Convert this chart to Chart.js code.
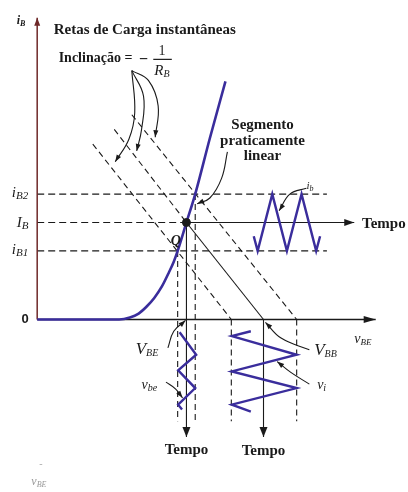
<!DOCTYPE html>
<html>
<head>
<meta charset="utf-8">
<script src="https://cdn.jsdelivr.net/npm/chart.js@4/dist/chart.umd.min.js"></script>
<style>
  html, body { margin: 0; padding: 0; background: #fff; }
  canvas { display: block; }
</style>
</head>
<body>
<canvas id="retas" width="408" height="492"></canvas>
<script>
// unidades do diagrama: origem no cruzamento dos eixos, 1 unidade = 10 px

// correntes de base e tensoes
const iB1 = 7.0, IB = 9.9, iB2 = 12.8;
const vbe1 = 14.4, vbeQ = 15.3, vbe2 = 16.2;
const vbbMin = 19.9, VBB = 23.2, vbbMax = 26.6;

// curva de entrada iB x vBE
const curvaX = [0, 8.4, 9.5, 10.4, 11.2, 12.0, 12.8, 13.5, 14.0, 14.4, 15.3, 16.2, 17.7, 19.3];
const curvaY = [0, 0, 0.2, 0.6, 1.3, 2.2, 3.4, 4.8, 5.9, 7.0, 9.9, 12.8, 18.5, 24.3];

// retas de carga (inicio superior -> corte no eixo vBE)
const retaEsqX = [5.7, vbbMin], retaEsqY = [17.9, 0];
const retaMeioX = [7.9, vbeQ], retaMeioY = [19.4, IB];
const retaDirX = [9.7, vbbMax], retaDirY = [20.9, 0];

// formas de onda
const ibX = [22.2, 22.6, 24.1, 25.6, 27.1, 28.6, 29.0];
const ibY = [8.5, iB1, iB2, iB1, iB2, iB1, 8.5];
const vbeX = [14.6, 16.3, 14.45, 16.2, 14.45, 14.85];
const vbeY = [-1.3, -3.6, -5.2, -7.0, -8.7, -9.2];
const viX = [21.9, 19.95, 26.6, 19.95, 26.6, 19.95, 21.9];
const viY = [-1.2, -1.7, -3.6, -5.3, -7.0, -8.7, -9.4];

// setas curvas de anotacao
const setaIncl1X = [9.7, 10.0, 9.4, 8.0], setaIncl1Y = [25.4, 21.1, 18.4, 16.1];
const setaIncl2X = [9.7, 10.9, 10.7, 10.2], setaIncl2Y = [25.4, 22.8, 19.4, 17.2];
const setaIncl3X = [9.7, 11.4, 12.4, 12.1], setaIncl3Y = [25.4, 24.4, 21.8, 18.6];
const setaSegX = [19.5, 18.9, 17.7, 16.4], setaSegY = [17.1, 14.4, 12.4, 11.8];
const setaIbX = [27.6, 25.9, 24.8], setaIbY = [13.4, 12.8, 11.1];
const setaVbeX = [13.4, 14.0, 15.2], setaVbeY = [-2.9, -1.2, -0.1];
const setaVbeacX = [13.2, 14.2, 14.9], setaVbeacY = [-6.4, -7.1, -8.0];
const setaVbbX = [27.9, 25.0, 23.4], setaVbbY = [-3.1, -1.9, -0.3];
const setaViX = [27.9, 26.0, 24.6], setaViY = [-6.6, -5.4, -4.3];

const fimEixoX = 34.7, fimEixoY = 30.8, fimTempoH = 32.5, fimTempoV = -12.0, fimTracoV = -10.4, fimTracoH = 29.7;

const AZUL = '#3a2d9c';
const PRETO = '#1a1a1a';
const SERIF = '"Liberation Serif", "Times New Roman", serif';

function pontos(xs, ys) {
  return xs.map((x, i) => ({ x: x, y: ys[i] }));
}

function linha(xs, ys, cor, larg, traco, extra) {
  return Object.assign({
    data: pontos(xs, ys),
    showLine: true,
    borderColor: cor,
    backgroundColor: cor,
    borderWidth: larg,
    borderDash: traco || [],
    pointRadius: 0,
    tension: 0,
    order: 5
  }, extra || {});
}

const curvaDs = linha(curvaX, curvaY, AZUL, 2.6, null, { cubicInterpolationMode: 'monotone', order: 1 });

const datasets = [
  curvaDs,
  linha(ibX, ibY, AZUL, 2.4, null, { order: 1 }),
  linha(vbeX, vbeY, AZUL, 2.4, null, { order: 1 }),
  linha(viX, viY, AZUL, 2.4, null, { order: 1 }),
  // ponto Q
  { data: [{ x: vbeQ, y: IB }], pointRadius: 4, backgroundColor: PRETO, borderColor: PRETO, order: 0 },
  // eixos
  linha([0, 0], [0, fimEixoY], '#6e2828', 1.5, null, { seta: [8, 6] }),
  linha([0, fimEixoX], [0, 0], PRETO, 1.4, null, { seta: [12, 7] }),
  // correntes
  linha([0, fimTracoH], [iB2, iB2], PRETO, 1.2, [7, 4]),
  linha([0, fimTracoH], [iB1, iB1], PRETO, 1.2, [7, 4]),
  linha([0, vbeQ], [IB, IB], PRETO, 1.2, [7, 4]),
  linha([vbeQ, fimTempoH], [IB, IB], PRETO, 1.2, null, { seta: [10, 7] }),
  // retas de carga
  linha(retaEsqX, retaEsqY, PRETO, 1.1, [6, 4]),
  linha(retaMeioX, retaMeioY, PRETO, 1.1, [6, 4]),
  linha([vbeQ, VBB], [IB, 0], PRETO, 1.1),
  linha(retaDirX, retaDirY, PRETO, 1.1, [6, 4]),
  // projecoes verticais
  linha([vbe1, vbe1], [iB1, fimTracoV], PRETO, 1.1, [6, 4]),
  linha([vbeQ, vbeQ], [IB, fimTempoV], PRETO, 1.1, null, { seta: [10, 8] }),
  linha([vbe2, vbe2], [iB2, fimTracoV], PRETO, 1.1, [6, 4]),
  linha([vbbMin, vbbMin], [0, fimTracoV], PRETO, 1.1, [6, 4]),
  linha([VBB, VBB], [0, fimTempoV], PRETO, 1.1, null, { seta: [10, 8] }),
  linha([vbbMax, vbbMax], [0, fimTracoV], PRETO, 1.1, [6, 4]),
  // setas de anotacao
  linha(setaIncl1X, setaIncl1Y, PRETO, 1.1, null, { tension: 0.4, seta: [7, 5] }),
  linha(setaIncl2X, setaIncl2Y, PRETO, 1.1, null, { tension: 0.4, seta: [7, 5] }),
  linha(setaIncl3X, setaIncl3Y, PRETO, 1.1, null, { tension: 0.4, seta: [7, 5] }),
  linha(setaSegX, setaSegY, PRETO, 1.1, null, { tension: 0.4, seta: [7, 5] }),
  linha(setaIbX, setaIbY, PRETO, 1.1, null, { tension: 0.4, seta: [7, 5] }),
  linha(setaVbeX, setaVbeY, PRETO, 1.1, null, { tension: 0.4, seta: [7, 5] }),
  linha(setaVbeacX, setaVbeacY, PRETO, 1.1, null, { tension: 0.4, seta: [7, 5] }),
  linha(setaVbbX, setaVbbY, PRETO, 1.1, null, { tension: 0.4, seta: [7, 5] }),
  linha(setaViX, setaViY, PRETO, 1.1, null, { tension: 0.4, seta: [7, 5] })
];

// textos: [texto, fonte, deslocamento vertical]
const b14 = 'bold 14px ' + SERIF;
const b15 = 'bold 15px ' + SERIF;
const it15 = 'italic 15px ' + SERIF;
const sub10 = 'italic 10px ' + SERIF;
const rotulos = [
  { x: -2.1, y: 30.2, p: [['i', 'bold italic 12px ' + SERIF], ['B', 'bold italic 8px ' + SERIF, 2]] },
  { x: 1.7, y: 29.1, p: [['Retas de Carga instantâneas', b15]] },
  { x: 2.2, y: 26.3, p: [['Inclinação =', b14]] },
  { x: 10.9, y: 26.1, a: 'center', p: [['−', 'bold 16px ' + SERIF]] },
  { x: 12.8, y: 27.0, a: 'center', p: [['1', '14px ' + SERIF]] },
  { x: 12.0, y: 25.0, p: [['R', it15], ['B', sub10, 2]] },
  { x: 23.1, y: 19.4, a: 'center', p: [['Segmento', b15]] },
  { x: 23.1, y: 17.8, a: 'center', p: [['praticamente', b15]] },
  { x: 23.1, y: 16.3, a: 'center', p: [['linear', b15]] },
  { x: 33.3, y: 9.3, p: [['Tempo', b15]] },
  { x: vbeQ, y: -13.7, a: 'center', p: [['Tempo', b15]] },
  { x: VBB, y: -13.8, a: 'center', p: [['Tempo', b15]] },
  { x: -2.6, y: 12.5, p: [['i', it15], ['B2', 'italic 11px ' + SERIF, 2]] },
  { x: -2.1, y: 9.4, p: [['I', it15], ['B', 'italic 11px ' + SERIF, 2]] },
  { x: -2.6, y: 6.7, p: [['i', it15], ['B1', 'italic 11px ' + SERIF, 2]] },
  { x: -1.6, y: -0.4, p: [['0', 'bold 13px "Liberation Sans", Arial, sans-serif']] },
  { x: 13.7, y: 7.6, p: [['Q', 'bold italic 14px ' + SERIF]] },
  { x: 27.6, y: 13.3, p: [['i', 'italic 11px ' + SERIF], ['b', 'italic 8px ' + SERIF, 1.5]] },
  { x: 10.1, y: -3.5, p: [['V', 'italic 17px ' + SERIF], ['BE', sub10, 2]] },
  { x: 10.7, y: -7.1, p: [['v', 'italic 14px ' + SERIF], ['be', sub10, 2]] },
  { x: 28.4, y: -3.6, p: [['V', 'italic 17px ' + SERIF], ['BB', sub10, 2]] },
  { x: 28.7, y: -7.1, p: [['v', 'italic 14px ' + SERIF], ['i', sub10, 2]] },
  { x: 32.5, y: -2.4, p: [['v', 'italic 14px ' + SERIF], ['BE', 'italic 9px ' + SERIF, 2]] },
  { x: 0.2, y: -15.1, c: '#aaa', p: [['-', '10px ' + SERIF]] },
  { x: -0.6, y: -16.9, c: '#999', p: [['v', 'italic 12px ' + SERIF], ['BE', 'italic 8px ' + SERIF, 2]] }
];
// barra da fracao 1/R_B
const barraX = [11.9, 13.8], barraY = 26.55;

const setas = {
  id: 'setas',
  afterDatasetsDraw(chart) {
    const ctx = chart.ctx;
    chart.data.datasets.forEach((ds, i) => {
      if (!ds.seta) return;
      const pts = chart.getDatasetMeta(i).data;
      const fim = pts[pts.length - 1];
      let ox = pts[pts.length - 2].x, oy = pts[pts.length - 2].y;
      if (fim.cp1x !== undefined && (Math.abs(fim.cp1x - fim.x) + Math.abs(fim.cp1y - fim.y)) > 0.5) {
        ox = fim.cp1x; oy = fim.cp1y;
      }
      const ang = Math.atan2(fim.y - oy, fim.x - ox);
      const c = ds.seta[0], l = ds.seta[1];
      ctx.save();
      ctx.translate(fim.x, fim.y);
      ctx.rotate(ang);
      ctx.beginPath();
      ctx.moveTo(0, 0);
      ctx.lineTo(-c, l / 2);
      ctx.lineTo(-c, -l / 2);
      ctx.closePath();
      ctx.fillStyle = ds.borderColor;
      ctx.fill();
      ctx.restore();
    });
  }
};

const textos = {
  id: 'textos',
  afterDraw(chart) {
    const ctx = chart.ctx;
    const sx = chart.scales.x, sy = chart.scales.y;
    ctx.save();
    ctx.textBaseline = 'alphabetic';
    ctx.textAlign = 'left';
    rotulos.forEach(r => {
      let px = sx.getPixelForValue(r.x);
      const py = sy.getPixelForValue(r.y);
      let total = 0;
      r.p.forEach(q => { ctx.font = q[1]; total += ctx.measureText(q[0]).width; });
      if (r.a === 'center') px -= total / 2;
      ctx.fillStyle = r.c || PRETO;
      r.p.forEach(q => {
        ctx.font = q[1];
        ctx.fillText(q[0], px, py + (q[2] || 0));
        px += ctx.measureText(q[0]).width;
      });
    });
    ctx.strokeStyle = PRETO;
    ctx.lineWidth = 1.2;
    ctx.beginPath();
    ctx.moveTo(sx.getPixelForValue(barraX[0]), sy.getPixelForValue(barraY));
    ctx.lineTo(sx.getPixelForValue(barraX[1]), sy.getPixelForValue(barraY));
    ctx.stroke();
    ctx.restore();
  }
};

new Chart(document.getElementById('retas'), {
  type: 'scatter',
  data: { datasets: datasets },
  options: {
    responsive: false,
    devicePixelRatio: 1,
    animation: false,
    layout: { padding: 0 },
    scales: {
      x: { type: 'linear', min: -3.3, max: 37.5, display: false },
      y: { type: 'linear', min: -17.1, max: 32.1, display: false }
    },
    plugins: {
      legend: { display: false },
      tooltip: { enabled: false }
    }
  },
  plugins: [setas, textos]
});
</script>
</body>
</html>
